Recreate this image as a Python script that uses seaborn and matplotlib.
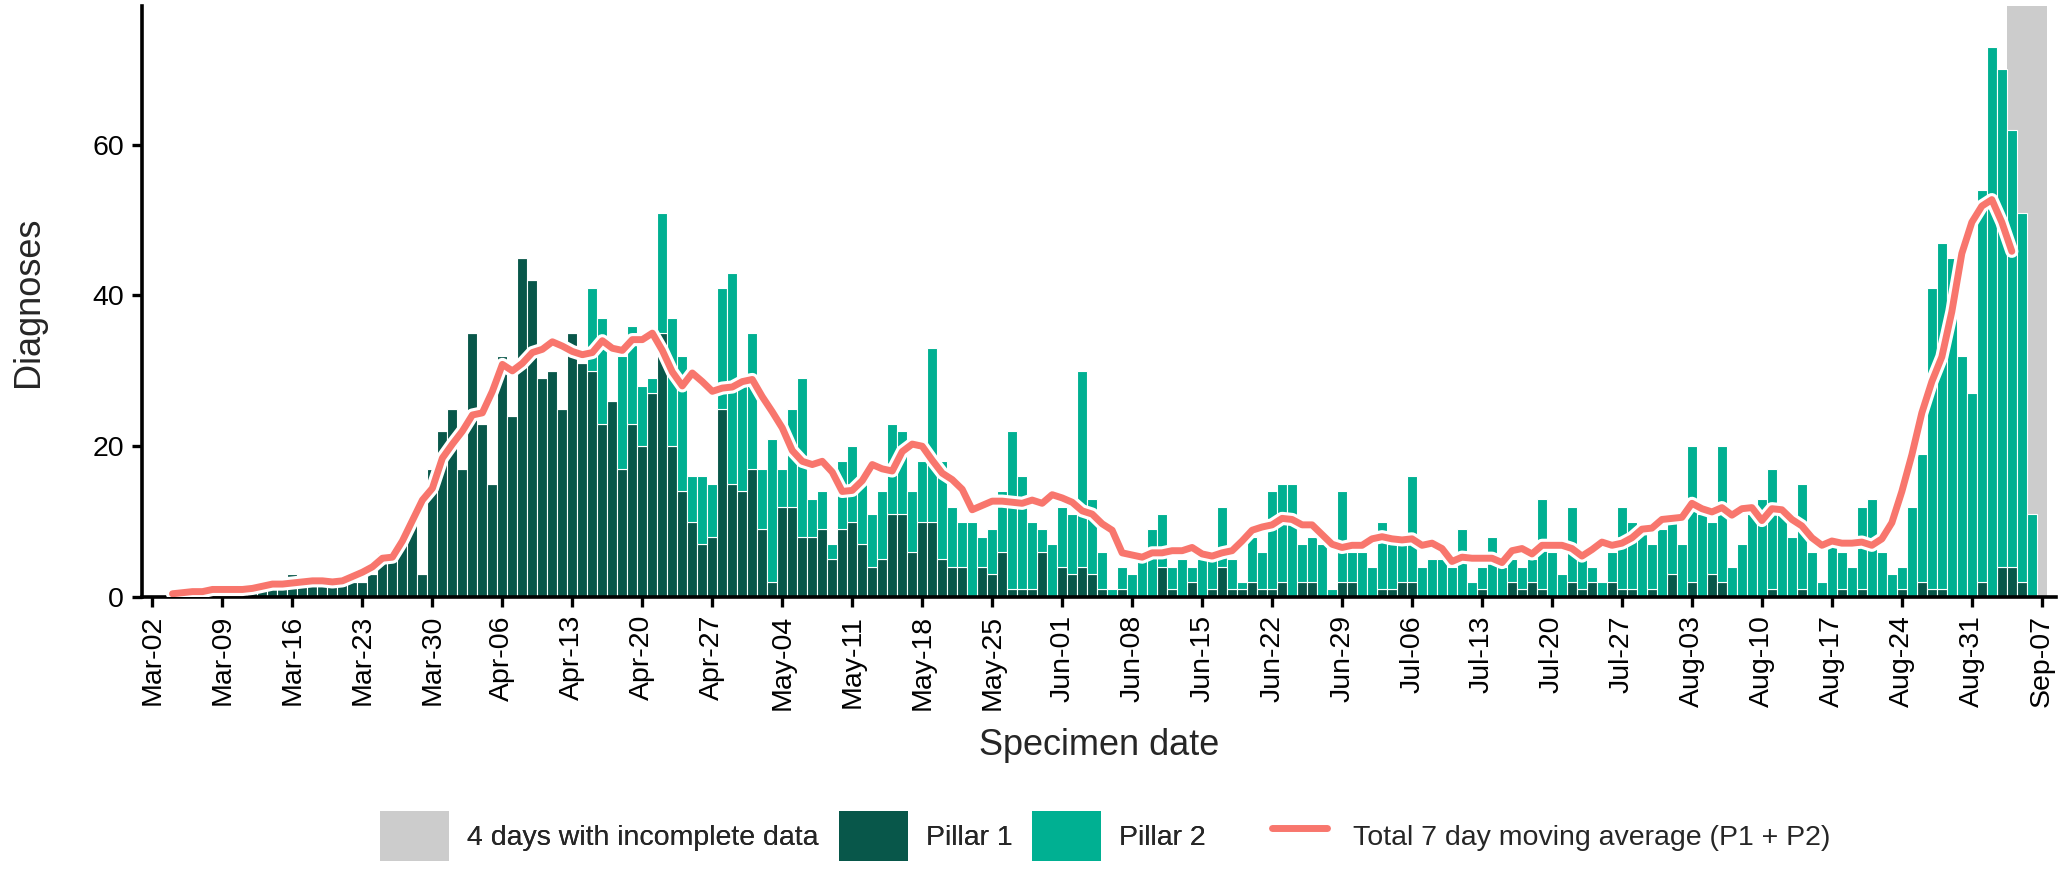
import numpy as np
import pandas as pd
import matplotlib

matplotlib.use("Agg")
import matplotlib.pyplot as plt
import matplotlib.dates as mdates
import matplotlib.patheffects as pe
from matplotlib.patches import Patch
from matplotlib.lines import Line2D
import seaborn as sns

# daily diagnoses by specimen date, 2020-03-01 .. 2020-09-07
start_date = "2020-03-01"
end_date = "2020-09-07"
incomplete_from = "2020-09-04"  # last 4 days shaded

pillar1_mar = [0, 0, 0, 0, 1, 1, 1, 1, 1, 0, 2, 1, 1, 1, 2, 3, 2, 2, 2, 2, 2, 2, 2, 3, 6, 6, 7, 10, 3, 17, 22]
pillar2_mar = [0, 0, 0, 0, 0, 0, 0, 0, 0, 0, 0, 0, 0, 0, 0, 0, 0, 0, 0, 0, 0, 0, 0, 0, 0, 0, 0, 0, 0, 0, 0]
pillar1_apr = [25, 17, 35, 23, 15, 32, 24, 45, 42, 29, 30, 25, 35, 31, 30, 23, 26, 17, 23, 20, 27, 35, 20, 14, 10, 7, 8, 25, 15, 14]
pillar2_apr = [0, 0, 0, 0, 0, 0, 0, 0, 0, 0, 0, 0, 0, 0, 11, 14, 0, 15, 13, 8, 2, 16, 17, 18, 6, 9, 7, 16, 28, 14]
pillar1_may = [17, 9, 2, 12, 12, 8, 8, 9, 5, 9, 10, 7, 4, 5, 11, 11, 6, 10, 10, 5, 4, 4, 0, 4, 3, 6, 1, 1, 1, 6, 0]
pillar2_may = [18, 8, 19, 5, 13, 21, 5, 5, 2, 9, 10, 8, 7, 9, 12, 11, 8, 8, 23, 13, 8, 6, 10, 4, 6, 8, 21, 15, 9, 3, 7]
pillar1_jun = [4, 3, 4, 3, 1, 0, 1, 0, 0, 0, 4, 1, 0, 2, 0, 1, 4, 1, 1, 2, 1, 1, 2, 0, 2, 2, 0, 0, 2, 2]
pillar2_jun = [8, 8, 26, 10, 5, 1, 3, 3, 5, 9, 7, 3, 5, 2, 5, 4, 8, 4, 1, 6, 5, 13, 13, 15, 5, 6, 7, 1, 12, 4]
pillar1_jul = [0, 0, 1, 1, 2, 2, 0, 0, 0, 0, 0, 0, 1, 0, 0, 2, 1, 2, 1, 0, 0, 2, 1, 2, 0, 2, 1, 1, 0, 1, 0]
pillar2_jul = [6, 4, 9, 6, 5, 14, 4, 5, 5, 4, 9, 2, 3, 8, 4, 3, 3, 3, 12, 6, 3, 10, 4, 2, 2, 4, 11, 9, 9, 6, 9]
pillar1_aug = [3, 0, 2, 0, 3, 2, 0, 0, 0, 0, 1, 0, 0, 1, 0, 0, 0, 1, 0, 1, 0, 0, 0, 1, 0, 2, 1, 1, 0, 0, 0]
pillar2_aug = [7, 7, 18, 11, 7, 18, 4, 7, 11, 13, 16, 11, 8, 14, 6, 2, 7, 5, 4, 11, 13, 6, 3, 3, 12, 17, 40, 46, 45, 32, 27]
pillar1_sep = [2, 0, 4, 4, 2, 0, 0]
pillar2_sep = [52, 73, 66, 58, 49, 11, 0]

col_incomplete = "#CCCCCC"
col_p1 = "#08574A"
col_p2 = "#00B092"
col_avg = "#F8766D"

dates = pd.date_range(start_date, end_date, freq="D")
pillar1 = np.array(pillar1_mar + pillar1_apr + pillar1_may + pillar1_jun
                   + pillar1_jul + pillar1_aug + pillar1_sep)
pillar2 = np.array(pillar2_mar + pillar2_apr + pillar2_may + pillar2_jun
                   + pillar2_jul + pillar2_aug + pillar2_sep)
assert len(dates) == len(pillar1) == len(pillar2)

day = mdates.date2num(dates)
total = pd.Series(pillar1 + pillar2, index=dates)
moving_avg = total.rolling(7, center=True).mean()

df = pd.DataFrame(
    {
        "day": np.concatenate([day, day]),
        "count": np.concatenate([pillar1, pillar2]),
        "pillar": ["Pillar 1"] * len(day) + ["Pillar 2"] * len(day),
    }
)

sns.set_style("ticks")
plt.rcParams["font.family"] = ["Liberation Sans", "DejaVu Sans"]

W, H = 2062, 869
fig = plt.figure(figsize=(W / 100, H / 100), dpi=100)
ax = fig.add_axes([142 / W, 1 - 597 / H, (2056 - 142) / W, (597 - 6) / H])

# shaded incomplete days
x0 = mdates.date2num(pd.Timestamp(incomplete_from)) - 0.5
x1 = day[-1] + 0.5
ax.axvspan(x0, x1, color=col_incomplete, lw=0, zorder=0)

sns.histplot(
    data=df,
    x="day",
    weights="count",
    hue="pillar",
    hue_order=["Pillar 2", "Pillar 1"],
    multiple="stack",
    discrete=True,
    palette={"Pillar 1": col_p1, "Pillar 2": col_p2},
    alpha=1,
    edgecolor="white",
    linewidth=0.8,
    legend=False,
    ax=ax,
    zorder=1,
)

sns.lineplot(
    x=day,
    y=moving_avg.values,
    color=col_avg,
    linewidth=5,
    ax=ax,
    zorder=3,
    path_effects=[pe.Stroke(linewidth=9.5, foreground="white"), pe.Normal()],
)

ax.set_xlim(day[0] - 0.05, day[-1] + 1.42)
ax.set_ylim(0, 78.4)
ax.set_yticks([0, 20, 40, 60])

ax.xaxis.set_major_locator(mdates.WeekdayLocator(byweekday=mdates.MO))
ax.xaxis.set_major_formatter(mdates.DateFormatter("%b-%d"))
ax.tick_params(axis="x", labelrotation=90)
ax.tick_params(axis="both", labelsize=20.5, length=7, width=2.4,
               pad=6, colors="black")

for side in ["top", "right"]:
    ax.spines[side].set_visible(False)
for side in ["left", "bottom"]:
    ax.spines[side].set_linewidth(2.6)
    ax.spines[side].set_color("black")

ax.set_xlabel("Specimen date", fontsize=26)
ax.set_ylabel("Diagnoses", fontsize=26)
ax.xaxis.set_label_coords(0.5, -0.222)
ax.yaxis.set_label_coords(-0.050, 0.5)

# legend: three filled keys, then the moving-average line
fs = 20.5
fs_px = fs * 100 / 72
leg_y = 1 - 836 / H

patch_leg = fig.legend(
    [
        Patch(facecolor=col_incomplete, edgecolor="none"),
        Patch(facecolor=col_p1, edgecolor="none"),
        Patch(facecolor=col_p2, edgecolor="none"),
    ],
    ["4 days with incomplete data", "Pillar 1", "Pillar 2"],
    loc="center left",
    bbox_to_anchor=(380 / W, leg_y),
    ncol=3,
    frameon=False,
    fontsize=fs,
    handlelength=69 / fs_px,
    handleheight=2.3,
    handletextpad=18 / fs_px,
    columnspacing=20 / fs_px,
    borderpad=0,
    borderaxespad=0,
)
fig.add_artist(patch_leg)

fig.legend(
    [Line2D([], [], color=col_avg, linewidth=5)],
    ["Total 7 day moving average (P1 + P2)"],
    loc="center left",
    bbox_to_anchor=(1272 / W, leg_y),
    frameon=False,
    fontsize=fs,
    handlelength=55 / fs_px,
    handleheight=2.3,
    handletextpad=26 / fs_px,
    borderpad=0,
    borderaxespad=0,
)

fig.savefig("out.png", dpi=100)
